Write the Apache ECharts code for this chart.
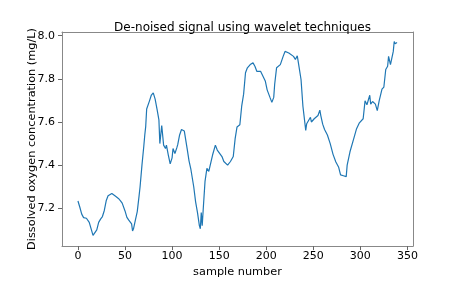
<!DOCTYPE html>
<html>
<head>
<meta charset="utf-8">
<script src="https://cdn.jsdelivr.net/npm/echarts@6/dist/echarts.min.js"></script>
<style>html,body{margin:0;padding:0;background:#fff}#c{width:450px;height:283px}</style>
</head>
<body>
<div id="c"></div>
<script>
const sampleIdx = [0,2,4,6,9,12,14,16,18,20,22,24,26,28,30,32,34,36,38,40,43,45,47,50,52,54,56,57,58,59,61,63,65,66,68,70,71,72,73,74,75,76,78,80,81,82,84,86,87,89,91,93,94,96,98,100,101,103,105,106,108,110,111,113,116,118,120,123,125,127,129,130,131,132,133,135,137,139,141,143,146,148,150,153,155,157,159,161,162,165,167,169,172,174,176,178,180,183,186,188,190,194,196,199,201,202,204,206,208,209,211,213,215,218,220,222,224,226,229,231,233,234,237,239,240,242,243,245,247,248,251,253,255,257,258,260,262,265,268,271,274,277,279,282,285,286,289,293,296,299,301,303,305,307,308,310,311,313,316,318,320,323,325,327,329,330,332,333,335,336,337,339];
const oxygen = [7.234,7.205,7.173,7.157,7.154,7.135,7.105,7.075,7.070,7.100,7.135,7.150,7.162,7.190,7.235,7.258,7.266,7.269,7.263,7.256,7.246,7.236,7.224,7.188,7.158,7.145,7.140,7.128,7.095,7.105,7.145,7.185,7.260,7.300,7.400,7.490,7.540,7.580,7.660,7.665,7.660,7.698,7.725,7.735,7.728,7.706,7.660,7.610,7.500,7.584,7.493,7.477,7.493,7.447,7.406,7.434,7.477,7.454,7.480,7.495,7.540,7.565,7.572,7.558,7.477,7.420,7.380,7.300,7.230,7.180,7.120,7.105,7.180,7.120,7.190,7.325,7.385,7.371,7.380,7.447,7.493,7.470,7.462,7.440,7.417,7.417,7.400,7.393,7.417,7.440,7.523,7.577,7.587,7.675,7.729,7.828,7.851,7.866,7.874,7.858,7.835,7.835,7.828,7.790,7.749,7.745,7.714,7.691,7.714,7.775,7.851,7.858,7.866,7.904,7.927,7.935,7.920,7.923,7.904,7.890,7.907,7.880,7.797,7.673,7.667,7.561,7.592,7.600,7.622,7.600,7.615,7.622,7.630,7.655,7.630,7.590,7.565,7.540,7.500,7.450,7.415,7.390,7.355,7.351,7.347,7.400,7.462,7.523,7.569,7.596,7.587,7.615,7.698,7.680,7.675,7.724,7.683,7.695,7.683,7.653,7.698,7.752,7.762,7.843,7.858,7.904,7.866,7.874,7.927,7.973,7.963,7.968];
const xTicks = [0,50,100,150,200,250,300,350];
const yTicks = [7.2,7.4,7.6,7.8,8.0];
const titleText = 'De-noised signal using wavelet techniques';
const xLabel = 'sample number';
const yLabel = 'Dissolved oxygen concentration (mg/L)';

const FONT = 'DejaVu Sans';
const chart = echarts.init(document.getElementById('c'), null, {renderer: 'canvas'});
const data = sampleIdx.map((x, i) => [x, oxygen[i]]);
const frame = {show: true, onZero: false, lineStyle: {color: '#888', width: 1}};
const XMIN = -16.95, XMAX = 355.95, YMIN = 7.025, YMAX = 8.017;
chart.setOption({
  animation: false,
  title: {text: titleText, left: 237.5, textAlign: 'center', top: 17,
    textStyle: {fontFamily: FONT, fontSize: 12, fontWeight: 'normal', color: '#000'}},
  grid: {left: 62, right: 37, top: 32, bottom: 34},
  graphic: [{type: 'text', x: 32, y: 139, rotation: Math.PI / 2,
    style: {text: yLabel, fontFamily: FONT, fontSize: 11.3, fill: '#000', align: 'center', verticalAlign: 'middle'}}],
  xAxis: [{type: 'value', min: XMIN, max: XMAX,
    name: xLabel, nameLocation: 'middle', nameGap: 17,
    nameTextStyle: {fontFamily: FONT, fontSize: 11.3, color: '#000'},
    axisLine: frame, splitLine: {show: false},
    axisTick: {show: true, customValues: xTicks, length: 4, inside: false, lineStyle: {color: '#666'}},
    axisLabel: {customValues: xTicks, fontFamily: FONT, fontSize: 11, color: '#000', margin: 5,
      formatter: v => String(v)}},
    {type: 'value', position: 'top', min: XMIN, max: XMAX, axisLine: frame,
      axisTick: {show: false}, axisLabel: {show: false}, splitLine: {show: false}}],
  yAxis: [{type: 'value', min: YMIN, max: YMAX,
    axisLine: frame, splitLine: {show: false},
    axisTick: {show: true, customValues: yTicks, length: 4, inside: false, lineStyle: {color: '#666'}},
    axisLabel: {customValues: yTicks, fontFamily: FONT, fontSize: 11, color: '#000', margin: 7,
      formatter: v => v.toFixed(1)}},
    {type: 'value', position: 'right', min: YMIN, max: YMAX, axisLine: frame,
      axisTick: {show: false}, axisLabel: {show: false}, splitLine: {show: false}}],
  series: [{type: 'line', data: data, showSymbol: false, smooth: false,
    lineStyle: {color: '#1f77b4', width: 1.2}}]
});
</script>
</body>
</html>
